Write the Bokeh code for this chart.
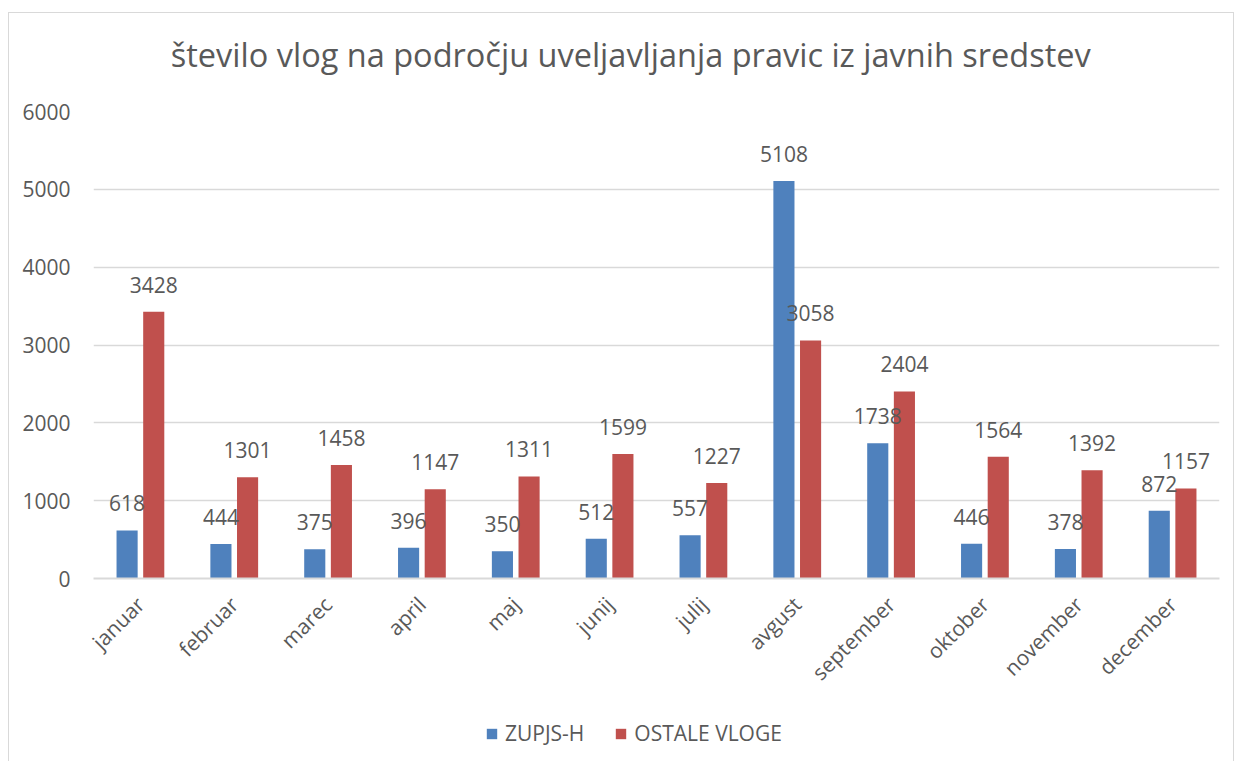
import numpy as np
from math import pi
from bokeh.plotting import figure
from bokeh.layouts import column
from bokeh.models import (ColumnDataSource, LabelSet, Legend, LegendItem,
                          FixedTicker, Range1d, Label)
from bokeh.core.properties import value
from bokeh.embed import file_html
from bokeh.resources import INLINE

title_text = "število vlog na področju uveljavljanja pravic iz javnih sredstev"
months = ["januar", "februar", "marec", "april", "maj", "junij", "julij",
          "avgust", "september", "oktober", "november", "december"]
zupjs = [618, 444, 375, 396, 350, 512, 557, 5108, 1738, 446, 378, 872]
ostale = [3428, 1301, 1458, 1147, 1311, 1599, 1227, 3058, 2404, 1564, 1392, 1157]
series_names = ["ZUPJS-H", "OSTALE VLOGE"]
y_ticks = [0, 1000, 2000, 3000, 4000, 5000, 6000]

FONT = "Open Sans"
TXT = "#595959"
BLUE = "#4f81bd"
RED = "#c0504d"
GRID = "#d9d9d9"

centers = np.arange(len(months)) + 0.5
dx = 0.142
bw = 0.225

src_a = ColumnDataSource(dict(x=centers - dx, y=zupjs, lab=[str(v) for v in zupjs]))
src_b = ColumnDataSource(dict(x=centers + dx, y=ostale, lab=[str(v) for v in ostale]))

W = 1224
H_TITLE = 82
H_MAIN = 608
H_LEG = 58


def strip(h):
    f = figure(width=W, height=h, output_backend="svg", toolbar_location=None,
               x_range=Range1d(0, W), y_range=Range1d(0, h), min_border=0)
    f.axis.visible = False
    f.grid.visible = False
    f.outline_line_color = None
    f.border_fill_color = "white"
    f.background_fill_color = "white"
    return f


# title strip
t = strip(H_TITLE)
t.add_layout(Label(x=584, y=41, text=title_text, text_align="center",
                   text_baseline="middle", text_font=FONT,
                   text_font_size="32.5px", text_color=TXT))

# main chart
p = figure(width=W, height=H_MAIN, output_backend="svg", toolbar_location=None,
           x_range=Range1d(0, 12), y_range=Range1d(0, 6000),
           min_border_left=84, min_border_right=14, min_border_top=16,
           min_border_bottom=125)
p.outline_line_color = None
p.background_fill_color = "white"
p.border_fill_color = "white"

r_a = p.vbar(x="x", top="y", width=bw, source=src_a, fill_color=BLUE, line_color=None)
r_b = p.vbar(x="x", top="y", width=bw, source=src_b, fill_color=RED, line_color=None)

for src in (src_a, src_b):
    ls = LabelSet(x="x", y="y", text="lab", source=src, y_offset=27,
                  text_align="center", text_baseline="middle",
                  text_font=value(FONT), text_font_size="21px", text_color=TXT)
    p.add_layout(ls)

p.xaxis.ticker = FixedTicker(ticks=list(centers))
p.xaxis.major_label_overrides = {float(c): m for c, m in zip(centers, months)}
p.xaxis.major_label_orientation = pi / 4
p.xaxis.major_label_text_font = FONT
p.xaxis.major_label_text_font_size = "21px"
p.xaxis.major_label_text_color = TXT
p.xaxis.axis_line_color = GRID
p.xaxis.axis_line_width = 2
p.xaxis.major_tick_line_color = None
p.xaxis.minor_tick_line_color = None
p.xaxis.major_label_standoff = 16

p.yaxis.ticker = FixedTicker(ticks=y_ticks)
p.yaxis.major_label_text_font = FONT
p.yaxis.major_label_text_font_size = "21px"
p.yaxis.major_label_text_color = TXT
p.yaxis.axis_line_color = None
p.yaxis.major_tick_line_color = None
p.yaxis.minor_tick_line_color = None
p.yaxis.major_label_standoff = 17

p.xgrid.grid_line_color = None
p.ygrid.grid_line_color = GRID
p.ygrid.grid_line_width = 1.5

# legend strip: zero-height swatch renderers carrying the series styles
q = strip(H_LEG)
l_a = q.vbar(x=[0], top=[0], width=1, fill_color=BLUE, line_color=None)
l_b = q.vbar(x=[0], top=[0], width=1, fill_color=RED, line_color=None)
legend = Legend(items=[LegendItem(label=series_names[0], renderers=[l_a]),
                       LegendItem(label=series_names[1], renderers=[l_b])],
                orientation="horizontal", location=(392, 14),
                label_text_font=FONT, label_text_font_size="21px",
                label_text_color=TXT, glyph_width=13, glyph_height=13,
                label_standoff=7, spacing=30, border_line_color=None,
                background_fill_alpha=0, margin=0, padding=4)
q.add_layout(legend)

lay = column(t, p, q, spacing=0)
lay.margin = (13, 0, 0, 9)
lay.styles = {"outline": "1.5px solid #d9d9d9"}

open("out.html", "w").write(file_html(lay, INLINE))
